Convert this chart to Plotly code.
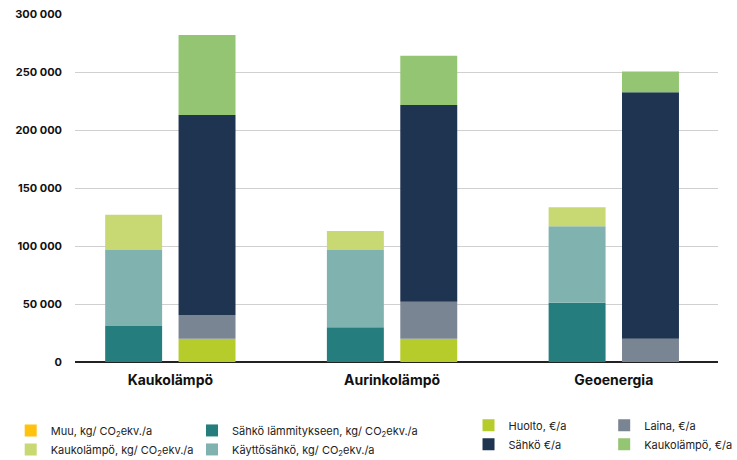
import plotly.graph_objects as go
import numpy as np

categories = ["Kaukolämpö", "Aurinkolämpö", "Geoenergia"]

# CO2 series (kg CO2 ekv./a)
muu_co2 = [0, 0, 0]
sahko_lamm_co2 = [31000, 30000, 51000]
kayttosahko_co2 = [65500, 66500, 66000]
kaukolampo_co2 = [30500, 16500, 16500]

# Cost series (€/a)
huolto_eur = [20000, 20000, 0]
laina_eur = [20500, 32000, 20000]
sahko_eur = [172500, 169500, 212500]
kaukolampo_eur = [69000, 42500, 18000]

yticks = [0, 50000, 100000, 150000, 200000, 250000, 300000]

CO2 = "kg/ CO<sub>2</sub>ekv./a"
co2_series = [
    ("Muu, " + CO2, muu_co2, "#FFC20E", "legend"),
    ("Sähkö lämmitykseen, " + CO2, sahko_lamm_co2, "#267D7D", "legend2"),
    ("Käyttösähkö, " + CO2, kayttosahko_co2, "#80B3B0", "legend2"),
    ("Kaukolämpö, " + CO2, kaukolampo_co2, "#C8D873", "legend"),
]
eur_series = [
    ("Huolto, €/a", huolto_eur, "#B5CC2B", "legend3"),
    ("Laina, €/a", laina_eur, "#7A8594", "legend4"),
    ("Sähkö €/a", sahko_eur, "#1E3450", "legend3"),
    ("Kaukolämpö, €/a", kaukolampo_eur, "#93C572", "legend4"),
]

fig = go.Figure()

def add_stack(series, group):
    base = np.zeros(len(categories))
    for name, vals, color, lg in series:
        fig.add_trace(go.Bar(
            x=categories, y=vals, base=base.copy(), name=name,
            marker=dict(color=color, line=dict(width=0)),
            offsetgroup=group, legend=lg, legendgroup=name, hoverinfo="name+y",
        ))
        base = base + np.array(vals)

add_stack(co2_series, "co2")
add_stack(eur_series, "eur")

font = "Inter, Roboto, Arial, sans-serif"
def lg(x, y, gap):
    return dict(orientation="v", xanchor="left", yanchor="top", x=x, y=y,
                font=dict(family=font, size=11, color="#222"),
                bgcolor="rgba(0,0,0,0)", tracegroupgap=gap,
                itemwidth=30, traceorder="normal")

fig.update_layout(
    width=737, height=460,
    margin=dict(l=75, r=19, t=14, b=98, autoexpand=False),
    paper_bgcolor="white", plot_bgcolor="white",
    barmode="group", bargap=0.338, bargroupgap=0.224,
    separators=", ",
    font=dict(family=font, color="#111"),
    legend=lg(-0.1, -0.155, 4),
    legend2=lg(0.182, -0.155, 4),
    legend3=lg(0.612, -0.14, 0),
    legend4=lg(0.823, -0.14, 0),
    xaxis=dict(range=[-0.43, 2.47], showline=False, ticks="",
               ticklabelstandoff=8,
               tickfont=dict(family=font, size=14, color="#111", weight="bold")),
    yaxis=dict(range=[0, 300000], tickvals=yticks, tickformat=",d",
               showgrid=True, gridcolor="#d0d0d0", gridwidth=1,
               zeroline=True, zerolinecolor="#222", zerolinewidth=1.5,
               ticks="", ticklabelstandoff=12,
               tickfont=dict(family=font, size=11, color="#111", weight="bold")),
)

fig.write_html("out.html")
